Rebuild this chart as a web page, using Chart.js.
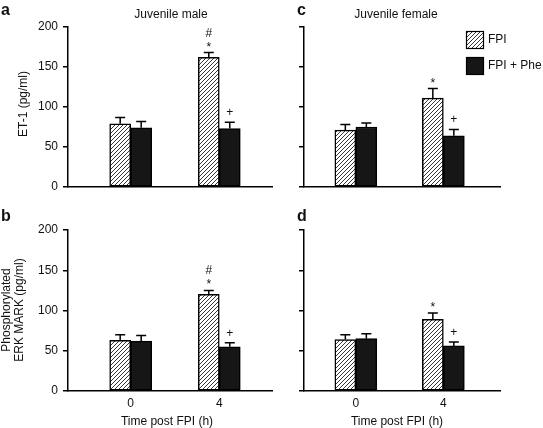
<!DOCTYPE html>
<html><head><meta charset="utf-8">
<script src="https://cdn.jsdelivr.net/npm/chart.js@4.4.1/dist/chart.umd.min.js"></script>
<style>
html,body{margin:0;padding:0;background:#fff;}
#wrap{position:relative;width:543px;height:428px;overflow:hidden;background:#fff;}
#wrap canvas{position:absolute;left:0;top:0;}
</style></head><body>
<div id="wrap">
<canvas id="pa" width="543" height="428"></canvas>
<canvas id="pb" width="543" height="428"></canvas>
<canvas id="pc" width="543" height="428"></canvas>
<canvas id="pd" width="543" height="428"></canvas>
</div>
<script>
// ---------- data ----------
const timeLabels = ['0', '4'];
const timeValues = [0, 4];
const seriesNames = ['FPI', 'FPI + Phe'];
const yTickValues = [0, 50, 100, 150, 200];
const xTitle = 'Time post FPI (h)';
const topYTitle = ['ET-1 (pg/ml)'];
const bottomYTitle = ['Phosphorylated', 'ERK MARK (pg/ml)'];

// a: Juvenile male, ET-1
const maleEt1Fpi = [79, 162];
const maleEt1FpiSem = [8, 6];
const maleEt1Phe = [74, 73];
const maleEt1PheSem = [8, 8];
const maleEt1FpiMarks = ['', '*#'];
const maleEt1PheMarks = ['', '+'];

// b: Juvenile male, phosphorylated ERK MAPK
const maleErkFpi = [63, 120];
const maleErkFpiSem = [7, 5];
const maleErkPhe = [62, 55];
const maleErkPheSem = [7, 5];
const maleErkFpiMarks = ['', '*#'];
const maleErkPheMarks = ['', '+'];

// c: Juvenile female, ET-1
const femaleEt1Fpi = [71, 111];
const femaleEt1FpiSem = [7, 12];
const femaleEt1Phe = [75, 64];
const femaleEt1PheSem = [5, 8];
const femaleEt1FpiMarks = ['', '*'];
const femaleEt1PheMarks = ['', '+'];

// d: Juvenile female, phosphorylated ERK MAPK
const femaleErkFpi = [64, 89];
const femaleErkFpiSem = [6, 8];
const femaleErkPhe = [65, 56];
const femaleErkPheSem = [6, 5];
const femaleErkFpiMarks = ['', '*'];
const femaleErkPheMarks = ['', '+'];

// ---------- helpers ----------
const FONT = '"Liberation Sans", Arial, Helvetica, sans-serif';
function makeHatch() {
  const c = document.createElement('canvas');
  c.width = 4; c.height = 4;
  const g = c.getContext('2d');
  g.fillStyle = '#fff'; g.fillRect(0, 0, 4, 4);
  g.strokeStyle = '#3a3a3a'; g.lineWidth = 1;
  g.beginPath();
  g.moveTo(-1, 5); g.lineTo(5, -1);
  g.moveTo(-1, 1); g.lineTo(1, -1);
  g.moveTo(3, 5); g.lineTo(5, 3);
  g.stroke();
  return g.createPattern(c, 'repeat');
}
const hatch = makeHatch();
const BLACK = '#161616';

const errorBarPlugin = {
  id: 'errbars',
  afterDatasetsDraw(chart) {
    const ctx = chart.ctx;
    const ys = chart.scales.y;
    chart.data.datasets.forEach((ds, di) => {
      const meta = chart.getDatasetMeta(di);
      meta.data.forEach((el, j) => {
        const top = ys.getPixelForValue(ds.data[j].y + ds.sem[j]);
        ctx.save();
        ctx.strokeStyle = '#000';
        ctx.lineWidth = 1.5;
        ctx.beginPath();
        ctx.moveTo(el.x, el.y);
        ctx.lineTo(el.x, top);
        ctx.moveTo(el.x - 5, top);
        ctx.lineTo(el.x + 5, top);
        ctx.stroke();
        ctx.fillStyle = '#111';
        ctx.textAlign = 'center';
        ctx.textBaseline = 'alphabetic';
        ctx.font = '12px ' + FONT;
        const m = ds.marks[j];
        if (m.includes('*')) ctx.fillText('*', el.x, top - 2);
        if (m.includes('#')) ctx.fillText('#', el.x, top - 16);
        if (m.includes('+')) ctx.fillText('+', el.x, top - 6);
        ctx.restore();
      });
    });
  }
};

const textPlugin = {
  id: 'texts',
  afterDraw(chart) {
    const items = chart.options.plugins.texts.items || [];
    const ctx = chart.ctx;
    items.forEach(t => {
      ctx.save();
      ctx.fillStyle = t.color || '#111';
      ctx.font = (t.weight || 'normal') + ' ' + t.size + 'px ' + FONT;
      ctx.textAlign = t.align || 'center';
      ctx.textBaseline = 'middle';
      ctx.translate(t.x, t.y);
      if (t.rot) ctx.rotate(t.rot);
      ctx.fillText(t.text, 0, 0);
      ctx.restore();
    });
    const lg = chart.options.plugins.texts.legend;
    if (lg) {
      ctx.save();
      lg.forEach(l => {
        ctx.fillStyle = l.fill;
        ctx.fillRect(l.x, l.y, 18, 18);
        ctx.strokeStyle = '#000';
        ctx.lineWidth = 1.2;
        ctx.strokeRect(l.x + 0.5, l.y + 0.5, 17, 17);
        ctx.fillStyle = '#111';
        ctx.font = '12px ' + FONT;
        ctx.textAlign = 'left';
        ctx.textBaseline = 'middle';
        ctx.fillText(l.text, l.x + 22, l.y + 9);
      });
      ctx.restore();
    }
  }
};

const YW = 45, XH = 25;
function makePanel(id, p) {
  const pts = vals => timeValues.map((x, i) => ({ x: x, y: vals[i] }));
  new Chart(document.getElementById(id), {
    type: 'bar',
    data: {
      datasets: [
        { label: seriesNames[0], data: pts(p.fpi), sem: p.fpiSem, marks: p.fpiMarks,
          backgroundColor: hatch, borderColor: '#000', borderWidth: 1.5, borderSkipped: false, barThickness: 21 },
        { label: seriesNames[1], data: pts(p.phe), sem: p.pheSem, marks: p.pheMarks,
          backgroundColor: BLACK, borderColor: '#000', borderWidth: 1.5, borderSkipped: false, barThickness: 21 }
      ]
    },
    options: {
      responsive: false,
      animation: false,
      devicePixelRatio: 1,
      layout: { padding: { left: p.area.left - YW, right: 543 - p.area.right, top: p.area.top, bottom: 428 - p.area.bottom - XH } },
      plugins: {
        legend: { display: false },
        tooltip: { enabled: false },
        texts: { items: p.texts, legend: p.legend }
      },
      scales: {
        x: {
          type: 'linear', position: 'bottom', min: p.xMin, max: p.xMax, offset: false,
          afterBuildTicks: s => { s.ticks = timeValues.map(v => ({ value: v })); },
          afterFit: s => { s.height = XH; },
          grid: { display: false, drawTicks: false, tickLength: 0, offset: false },
          border: { display: true, color: '#000', width: 1.5 },
          ticks: { display: p.showX, padding: 5, color: '#111', font: { size: 12, family: FONT },
                   callback: v => timeLabels[timeValues.indexOf(v)] }
        },
        y: {
          min: 0, max: 200,
          afterBuildTicks: s => { s.ticks = yTickValues.map(v => ({ value: v })); },
          afterFit: s => { s.width = YW; },
          grid: { display: true, drawOnChartArea: false, drawTicks: true, tickLength: 5, color: '#000', lineWidth: 1.5 },
          border: { display: true, color: '#000', width: 1.5 },
          ticks: { padding: 5, color: '#111', font: { size: 12, family: FONT },
                   callback: v => p.showY ? String(v) : '' }
        }
      }
    },
    plugins: [errorBarPlugin, textPlugin]
  });
}

const R = -Math.PI / 2;
makePanel('pa', {
  fpi: maleEt1Fpi, fpiSem: maleEt1FpiSem, phe: maleEt1Phe, pheSem: maleEt1PheSem,
  fpiMarks: maleEt1FpiMarks, pheMarks: maleEt1PheMarks,
  area: { left: 68, right: 272, top: 27, bottom: 187 }, xMin: -2.83, xMax: 6.38,
  showX: false, showY: true,
  texts: [
    { text: 'a', x: 1, y: 11, size: 16, weight: 'bold', align: 'left' },
    { text: 'Juvenile male', x: 171, y: 15, size: 12 },
    { text: topYTitle[0], x: 24, y: 104, size: 12, rot: R }
  ]
});
makePanel('pb', {
  fpi: maleErkFpi, fpiSem: maleErkFpiSem, phe: maleErkPhe, pheSem: maleErkPheSem,
  fpiMarks: maleErkFpiMarks, pheMarks: maleErkPheMarks,
  area: { left: 68, right: 272, top: 230, bottom: 391 }, xMin: -2.83, xMax: 6.38,
  showX: true, showY: true,
  texts: [
    { text: 'b', x: 1, y: 217, size: 16, weight: 'bold', align: 'left' },
    { text: bottomYTitle[0], x: 6.5, y: 310, size: 12, rot: R },
    { text: bottomYTitle[1], x: 19.5, y: 310, size: 12, rot: R },
    { text: xTitle, x: 167, y: 422, size: 12 }
  ]
});
makePanel('pc', {
  fpi: femaleEt1Fpi, fpiSem: femaleEt1FpiSem, phe: femaleEt1Phe, pheSem: femaleEt1PheSem,
  fpiMarks: femaleEt1FpiMarks, pheMarks: femaleEt1PheMarks,
  area: { left: 304, right: 500, top: 27, bottom: 187 }, xMin: -2.37, xMax: 6.59,
  showX: false, showY: false,
  texts: [
    { text: 'c', x: 297, y: 11, size: 16, weight: 'bold', align: 'left' },
    { text: 'Juvenile female', x: 396, y: 15, size: 12 }
  ],
  legend: [
    { x: 466, y: 31, fill: hatch, text: seriesNames[0] },
    { x: 466, y: 57, fill: BLACK, text: seriesNames[1] }
  ]
});
makePanel('pd', {
  fpi: femaleErkFpi, fpiSem: femaleErkFpiSem, phe: femaleErkPhe, pheSem: femaleErkPheSem,
  fpiMarks: femaleErkFpiMarks, pheMarks: femaleErkPheMarks,
  area: { left: 304, right: 500, top: 230, bottom: 391 }, xMin: -2.37, xMax: 6.59,
  showX: true, showY: false,
  texts: [
    { text: 'd', x: 297, y: 217, size: 16, weight: 'bold', align: 'left' },
    { text: xTitle, x: 397, y: 422, size: 12 }
  ]
});
</script>
</body></html>
